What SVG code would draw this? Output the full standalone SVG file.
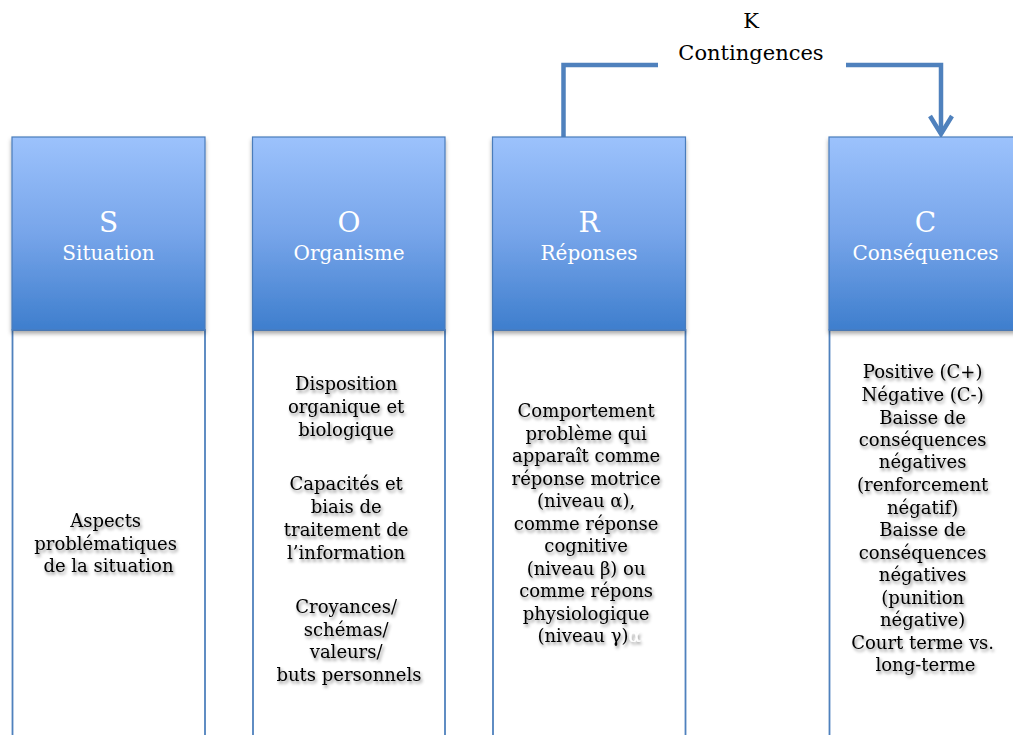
<svg xmlns="http://www.w3.org/2000/svg" width="1013" height="735" viewBox="0 0 1013 735">
<defs>
<linearGradient id="hg" x1="0" y1="0" x2="0" y2="1">
<stop offset="0" stop-color="#9CC2FC"/>
<stop offset="0.5" stop-color="#77A5EA"/>
<stop offset="1" stop-color="#3E7ECD"/>
</linearGradient>
<filter id="hs" x="-10%" y="-10%" width="120%" height="130%">
<feDropShadow dx="0" dy="3" stdDeviation="2" flood-color="#000" flood-opacity="0.35"/>
</filter>
<filter id="ts" x="-20%" y="-50%" width="140%" height="200%">
<feDropShadow dx="1.5" dy="2.5" stdDeviation="1.6" flood-color="#000" flood-opacity="0.45"/>
</filter>
<marker id="chev" markerUnits="userSpaceOnUse" markerWidth="30" markerHeight="30" refX="0" refY="0" orient="auto" overflow="visible">
<path d="M-18,-11 L0,0 L-18,11" fill="none" stroke="#4F81BD" stroke-width="4.5" stroke-linejoin="miter"/>
</marker>
</defs>
<style>
.body{fill:#fff;stroke:#4F81BD;stroke-width:1.8}
.head{fill:url(#hg);stroke:#4A7CBB;stroke-width:1.2;filter:url(#hs)}
.big{font-family:"DejaVu Serif","Liberation Serif",serif;font-size:28px;fill:#fff;text-anchor:middle}
.sub{font-family:"DejaVu Serif","Liberation Serif",serif;font-size:20px;fill:#fff;text-anchor:middle}
.txt{font-family:"DejaVu Serif","Liberation Serif",serif;font-size:18px;fill:#000;text-anchor:middle;filter:url(#ts)}
.top{font-family:"DejaVu Serif","Liberation Serif",serif;font-size:21px;fill:#000;text-anchor:middle}
.conn{fill:none;stroke:#4F81BD;stroke-width:4.5}
</style>
<rect width="1013" height="735" fill="#fff"/>

<g id="connectors">
<path class="conn" d="M563.5,137 V65 H658"/>
<path class="conn" d="M846,65 H941 V134" marker-end="url(#chev)"/>
</g>

<g id="label-K">
<text class="top" x="751" y="28">K</text>
<text class="top" x="751" y="60">Contingences</text>
</g>

<g id="node-S">
<rect class="body" x="12.5" y="330" width="192.5" height="420"/>
<rect class="head" x="12" y="137" width="193" height="193"/>
<text class="big" x="108.5" y="232">S</text>
<text class="sub" x="108.5" y="260">Situation</text>
<text class="txt" x="108.5">
<tspan x="108.5" y="527">Aspects</tspan>
<tspan x="108.5" y="549.5">problématiques</tspan>
<tspan x="108.5" y="572">de la situation</tspan>
</text>
</g>

<g id="node-O">
<rect class="body" x="253" y="330" width="192" height="420"/>
<rect class="head" x="252.5" y="137" width="192.5" height="193"/>
<text class="big" x="349" y="232">O</text>
<text class="sub" x="349" y="260">Organisme</text>
<text class="txt">
<tspan x="349" y="390">Disposition</tspan>
<tspan x="349" y="413">organique et</tspan>
<tspan x="349" y="436">biologique</tspan>
<tspan x="349" y="490">Capacités et</tspan>
<tspan x="349" y="513">biais de</tspan>
<tspan x="349" y="536">traitement de</tspan>
<tspan x="349" y="559">l’information</tspan>
<tspan x="349" y="613">Croyances/</tspan>
<tspan x="349" y="636">schémas/</tspan>
<tspan x="349" y="658">valeurs/</tspan>
<tspan x="349" y="681">buts personnels</tspan>
</text>
</g>

<g id="node-R">
<rect class="body" x="493" y="330" width="192.5" height="420"/>
<rect class="head" x="492.5" y="137" width="193" height="193"/>
<text class="big" x="589" y="232">R</text>
<text class="sub" x="589" y="260">Réponses</text>
<text class="txt">
<tspan x="589" y="417">Comportement</tspan>
<tspan x="589" y="440">problème qui</tspan>
<tspan x="589" y="462">apparaît comme</tspan>
<tspan x="589" y="485">réponse motrice</tspan>
<tspan x="589" y="507">(niveau α),</tspan>
<tspan x="589" y="530">comme réponse</tspan>
<tspan x="589" y="552">cognitive</tspan>
<tspan x="589" y="575">(niveau β) ou</tspan>
<tspan x="589" y="597">comme répons</tspan>
<tspan x="589" y="620">physiologique</tspan>
<tspan x="589" y="642">(niveau γ)<tspan fill="#fff">α</tspan></tspan>
</text>
</g>

<g id="node-C">
<rect class="body" x="829.5" y="330" width="193" height="420"/>
<rect class="head" x="829" y="137" width="193" height="193"/>
<text class="big" x="925.5" y="232">C</text>
<text class="sub" x="925.5" y="260">Conséquences</text>
<text class="txt">
<tspan x="925.5" y="378">Positive (C+)</tspan>
<tspan x="925.5" y="401">Négative (C-)</tspan>
<tspan x="925.5" y="424">Baisse de</tspan>
<tspan x="925.5" y="446">conséquences</tspan>
<tspan x="925.5" y="468">négatives</tspan>
<tspan x="925.5" y="491">(renforcement</tspan>
<tspan x="925.5" y="514">négatif)</tspan>
<tspan x="925.5" y="536">Baisse de</tspan>
<tspan x="925.5" y="559">conséquences</tspan>
<tspan x="925.5" y="581">négatives</tspan>
<tspan x="925.5" y="604">(punition</tspan>
<tspan x="925.5" y="626">négative)</tspan>
<tspan x="925.5" y="649">Court terme vs.</tspan>
<tspan x="925.5" y="671">long-terme</tspan>
</text>
</g>
</svg>
